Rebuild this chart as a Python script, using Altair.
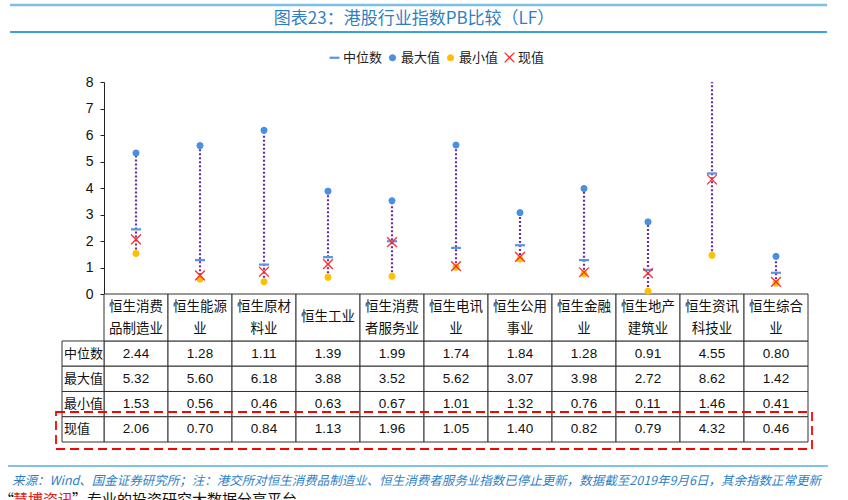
import altair as alt
import pandas as pd

# ---------------- data ----------------
categories = ["恒生消费品制造业", "恒生能源业", "恒生原材料业", "恒生工业", "恒生消费者服务业",
              "恒生电讯业", "恒生公用事业", "恒生金融业", "恒生地产建筑业", "恒生资讯科技业", "恒生综合业"]
header_labels = ["恒生消费\n品制造业", "恒生能源\n业", "恒生原材\n料业", "恒生工业", "恒生消费\n者服务业",
                 "恒生电讯\n业", "恒生公用\n事业", "恒生金融\n业", "恒生地产\n建筑业", "恒生资讯\n科技业", "恒生综合\n业"]
median_vals = [2.44, 1.28, 1.11, 1.39, 1.99, 1.74, 1.84, 1.28, 0.91, 4.55, 0.80]
max_vals = [5.32, 5.60, 6.18, 3.88, 3.52, 5.62, 3.07, 3.98, 2.72, 8.62, 1.42]
min_vals = [1.53, 0.56, 0.46, 0.63, 0.67, 1.01, 1.32, 0.76, 0.11, 1.46, 0.41]
current_vals = [2.06, 0.70, 0.84, 1.13, 1.96, 1.05, 1.40, 0.82, 0.79, 4.32, 0.46]

series_names = ["中位数", "最大值", "最小值", "现值"]
y_ticks = [0, 1, 2, 3, 4, 5, 6, 7, 8]

title_text = "图表23：港股行业指数PB比较（LF）"
footer_text = "来源：Wind、国金证券研究所；注：港交所对恒生消费品制造业、恒生消费者服务业指数已停止更新，数据截至2019年9月6日，其余指数正常更新"

# ---------------- frames ----------------
series_vals = [median_vals, max_vals, min_vals, current_vals]
wide = pd.DataFrame({"cat": categories, "lo": min_vals, "hi": max_vals})
long = pd.DataFrame([
    {"cat": c, "series": s, "value": v[i]}
    for s, v in zip(series_names, series_vals)
    for i, c in enumerate(categories)
])

# table layout (row edges in table units)
row_edges = [0, 1.86, 2.86, 3.86, 4.86, 5.86]
header_df = pd.DataFrame({"cat": categories, "txt": header_labels,
                          "y0": row_edges[0], "y1": row_edges[1]})
header_df["ym"] = (header_df["y0"] + header_df["y1"]) / 2
header_df["multi"] = header_df["txt"].str.contains("\n")
cell_rows = []
for r, (s, v) in enumerate(zip(series_names, series_vals)):
    for i, c in enumerate(categories):
        cell_rows.append({"cat": c, "row": s, "txt": f"{v[i]:.2f}",
                          "y0": row_edges[r + 1], "y1": row_edges[r + 2]})
cells_df = pd.DataFrame(cell_rows)
cells_df["ym"] = (cells_df["y0"] + cells_df["y1"]) / 2
rowlab_df = pd.DataFrame({"row": series_names,
                          "y0": row_edges[1:5], "y1": row_edges[2:6]})
rowlab_df["ym"] = (rowlab_df["y0"] + rowlab_df["y1"]) / 2

# ---------------- styles ----------------
LAT = "Liberation Sans, Noto Sans CJK SC"
CJK = "Noto Sans CJK SC"
BLUE_T = "#2F7FC4"

x_enc = alt.X("cat:N", sort=categories,
              scale=alt.Scale(domain=categories, paddingInner=0, paddingOuter=0), axis=None)
yscale = alt.Scale(domain=[0, 8], range=[212, 0], nice=False, zero=False)
tscale = alt.Scale(domain=[0, 5.86], range=[212, 360], nice=False, zero=False)

legend = alt.Legend(title=None, orient="none", legendX=224, legendY=-31, direction="horizontal",
                    labelFont=CJK, labelFontSize=13, labelColor="#222", labelOffset=2,
                    columnPadding=3)

rule = alt.Chart(wide).mark_rule(clip=True, color="#7030A0", strokeWidth=2.2, strokeDash=[2, 2]).encode(
    x=x_enc,
    y=alt.Y("lo:Q", scale=yscale,
            axis=alt.Axis(values=y_ticks, title=None, grid=False, labelFont=LAT, labelFontSize=14,
                          labelColor="#111", domainColor="#222", tickColor="#222", tickSize=4,
                          labelPadding=7, format="d")),
    y2="hi:Q",
)

points = alt.Chart(long).mark_point(clip=True, opacity=1).encode(
    x=x_enc,
    y=alt.Y("value:Q", scale=yscale),
    shape=alt.Shape("series:N", scale=alt.Scale(domain=series_names,
                    range=["M-1,0L1,0", "circle", "circle", "M-1,-1L1,1M1,-1L-1,1"]), legend=legend),
    stroke=alt.Stroke("series:N", scale=alt.Scale(domain=series_names,
                      range=["#5596E6", "#4A90E2", "#FFC000", "#FF2A2A"]), legend=legend),
    fill=alt.Fill("series:N", scale=alt.Scale(domain=series_names,
                  range=["transparent", "#4A90E2", "#FFC000", "transparent"]), legend=legend),
    size=alt.Size("series:N", scale=alt.Scale(type="ordinal", domain=series_names,
                  range=[100, 38, 38, 95]), legend=legend),
    strokeWidth=alt.StrokeWidth("series:N", scale=alt.Scale(type="ordinal", domain=series_names,
                                range=[2.2, 1, 1, 1.3]), legend=legend),
)

plot_group = alt.layer(rule, points)

cells = alt.Chart(cells_df).mark_rect(fill="white", stroke="#333", strokeWidth=1).encode(
    x=x_enc, y=alt.Y("y0:Q", scale=tscale, axis=None), y2="y1:Q")
hcells = alt.Chart(header_df).mark_rect(fill="white", stroke="#333", strokeWidth=1).encode(
    x=x_enc, y=alt.Y("y0:Q", scale=tscale, axis=None), y2="y1:Q")
htext_multi = alt.Chart(header_df).transform_filter("datum.multi").mark_text(
    font=CJK, fontSize=13.5, color="#111", lineBreak="\n", lineHeight=22, baseline="middle", dy=-10).encode(
    x=x_enc, y=alt.Y("ym:Q", scale=tscale, axis=None), text="txt:N")
htext_single = alt.Chart(header_df).transform_filter("!datum.multi").mark_text(
    font=CJK, fontSize=13.5, color="#111", baseline="middle").encode(
    x=x_enc, y=alt.Y("ym:Q", scale=tscale, axis=None), text="txt:N")
ctext = alt.Chart(cells_df).mark_text(font=LAT, fontSize=13.5, color="#111", baseline="middle").encode(
    x=x_enc, y=alt.Y("ym:Q", scale=tscale, axis=None), text="txt:N")
lrect = alt.Chart(rowlab_df).mark_rect(fill="white", stroke="#333", strokeWidth=1).encode(
    x=alt.value(-42), x2=alt.value(0), y=alt.Y("y0:Q", scale=tscale, axis=None), y2="y1:Q")
ltext = alt.Chart(rowlab_df).mark_text(font=CJK, fontSize=13, color="#111", align="left",
                                       baseline="middle").encode(
    x=alt.value(-40), y=alt.Y("ym:Q", scale=tscale, axis=None), text="row:N")

table_group = alt.layer(cells, hcells, htext_multi, htext_single, ctext, lrect, ltext)

one = pd.DataFrame({"t": [title_text]})
redbox = alt.Chart(one).mark_rect(fill="transparent", stroke="#FF0000", strokeWidth=1.8,
                                  strokeDash=[9, 5]).encode(
    x=alt.value(-48), x2=alt.value(708), y=alt.value(330), y2=alt.value(367))
line1 = alt.Chart(one).mark_rule(color="#7DC0E3", strokeWidth=2.5).encode(
    x=alt.value(-94), x2=alt.value(723), y=alt.value(-77))
line2 = alt.Chart(one).mark_rule(color="#3AA3DC", strokeWidth=2).encode(
    x=alt.value(-94), x2=alt.value(723), y=alt.value(-50))
line3 = alt.Chart(one).mark_rule(color="#5AAFDD", strokeWidth=1.5).encode(
    x=alt.value(-96), x2=alt.value(724), y=alt.value(384))
title = alt.Chart(one).mark_text(font=CJK, fontSize=17, color=BLUE_T, baseline="middle").encode(
    x=alt.value(310), y=alt.value(-63), text="t:N")
foot = alt.Chart(pd.DataFrame({"t": [footer_text]})).mark_text(
    font=CJK, fontSize=12.5, fontStyle="italic", color=BLUE_T, align="left", baseline="middle").encode(
    x=alt.value(-92), y=alt.value(399), text="t:N")
f1 = alt.Chart(pd.DataFrame({"t": ["“"]})).mark_text(font=CJK, fontSize=15, color="#111", align="left",
                                                       baseline="top").encode(
    x=alt.value(-105), y=alt.value(411), text="t:N")
f2 = alt.Chart(pd.DataFrame({"t": ["慧博资讯"]})).mark_text(font=CJK, fontSize=15, color="#E02020",
                                                         align="left", baseline="top").encode(
    x=alt.value(-91), y=alt.value(411), text="t:N")
f3 = alt.Chart(pd.DataFrame({"t": ["”专业的投资研究大数据分享平台"]})).mark_text(
    font=CJK, fontSize=15, color="#111", align="left", baseline="top").encode(
    x=alt.value(-32), y=alt.value(411), text="t:N")

chart = alt.layer(
    table_group, plot_group, redbox, line1, line2, line3, title, foot, f1, f2, f3
).resolve_scale(y="independent").properties(
    width=704, height=360,
    padding={"left": 104, "top": 82, "right": 40, "bottom": 58},
    autosize=alt.AutoSizeParams(type="none"),
).configure_view(stroke="transparent")

chart.save("out.html", embed_options={"renderer": "svg", "actions": False})
